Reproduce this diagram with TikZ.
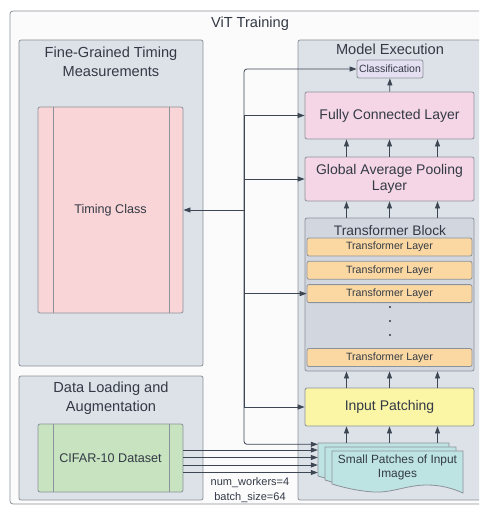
\documentclass[tikz,border=0pt]{standalone}
\usepackage{fontspec}
\setmainfont{Liberation Sans}
\usetikzlibrary{arrows.meta,positioning}
\definecolor{ink}{HTML}{333A45}
\definecolor{edge}{HTML}{8C929B}
\definecolor{wirec}{HTML}{3D4754}
\definecolor{framec}{HTML}{FBFBFC}
\definecolor{panec}{HTML}{DDE1E8}
\definecolor{timingc}{HTML}{F9D5D7}
\definecolor{densec}{HTML}{F5D6E6}
\definecolor{clsc}{HTML}{E4E0F1}
\definecolor{blockc}{HTML}{D2D6DE}
\definecolor{layerc}{HTML}{FBD8A2}
\definecolor{inpc}{HTML}{FBF5A6}
\definecolor{patchc}{HTML}{BEE3E3}
\definecolor{datac}{HTML}{C7E3C0}
\begin{document}
\begin{tikzpicture}[x=1pt,y=-1pt,>={Triangle[length=7pt,width=5pt]},
  every node/.style={text=ink},
  pane/.style={draw=edge,fill=panec,line width=.8pt,rounded corners=2pt,inner sep=0pt},
  head/.style={font=\fontsize{14.6}{18.5}\selectfont,align=center},
  box/.style={draw=edge,line width=.8pt,rounded corners=2pt,align=center,inner sep=0pt,
    font=\fontsize{14}{16.5}\selectfont},
  sub/.style={box,font=\fontsize{12.6}{15}\selectfont,path picture={
    \draw[edge,line width=.8pt]
      ([xshift=15pt]path picture bounding box.north west) -- ([xshift=15pt]path picture bounding box.south west)
      ([xshift=-14pt]path picture bounding box.north east) -- ([xshift=-14pt]path picture bounding box.south east);}},
  layer/.style={box,fill=layerc,minimum width=165pt,minimum height=18pt,font=\fontsize{10.6}{12}\selectfont},
  wire/.style={draw=wirec,line width=.8pt}]
  \path[use as bounding box,clip] (0,0) rectangle (479,508);
  % frame and the three panes
  \node[draw=edge,fill=framec,line width=.8pt,rounded corners=3pt,minimum width=482pt,minimum height=493pt] (frame) at (251,257.5) {};
  \node[head] (ttl) at (250,24) {ViT Training};
  \node[pane,minimum width=184pt,minimum height=326pt] (tpan) at (111,203) {};
  \node[pane,minimum width=184pt,minimum height=124pt] (dpan) at (111,438) {};
  \node[pane,minimum width=184pt,minimum height=460pt] (mpan) at (390,270) {};
  \node[head] (thd) at (111,62) {Fine-Grained Timing\\Measurements};
  \node[head] (dhd) at (111,398) {Data Loading and\\Augmentation};
  \node[head] (mhd) at (390,49) {Model Execution};
  % left side
  \node[sub,fill=timingc,minimum width=145pt,minimum height=206pt] (tcls) at (110.5,210) {Timing Class};
  \node[sub,fill=datac,minimum width=145pt,minimum height=68pt] (cifar) at (110.5,458) {CIFAR-10 Dataset};
  % model
  \node[box,fill=clsc,minimum width=66pt,minimum height=18pt,font=\fontsize{10.5}{12}\selectfont] (cls) at (390,69) {Classification};
  \node[box,fill=densec,minimum width=169pt,minimum height=47pt] (fc) at (389.5,115.5) {Fully Connected Layer};
  \node[box,fill=densec,minimum width=169pt,minimum height=44pt] (gap) at (389.5,179) {Global Average Pooling\\Layer};
  \node[box,fill=blockc,minimum width=169pt,minimum height=153pt] (tb) at (389.5,294.5) {};
  \node[font=\fontsize{13.8}{16}\selectfont] (tbh) at (390,230.5) {Transformer Block};
  \node[layer] (tl1) at (389.5,247) {Transformer Layer};
  \node[layer,below=4.5pt of tl1] (tl2) {Transformer Layer};
  \node[layer,below=4.5pt of tl2] (tl3) {Transformer Layer};
  \node[layer] (tl4) at (389.5,357.5) {Transformer Layer};
  \foreach \y in {307,321,335} \fill[ink] (390,\y) circle (1.1pt);
  \node[box,fill=inpc,minimum width=169pt,minimum height=38pt] (inp) at (389.5,407) {Input Patching};
  % stacked patches
  \node[minimum width=131pt,minimum height=42pt,inner sep=0pt] (patbk) at (383.5,464) {};
  \foreach \o/\p in {0/0,7/4,14/8}
    \draw[edge,fill=patchc,line width=.8pt] (318+\o,443+\p) -- (449+\o,443+\p) -- (449+\o,485+\p)
      .. controls (438+\o,480+\p) and (426+\o,477+\p) .. (413+\o,477+\p)
      .. controls (393+\o,477+\p) and (378+\o,485+\p) .. (360+\o,484+\p)
      .. controls (343+\o,483+\p) and (328+\o,479+\p) .. (318+\o,476+\p) -- cycle;
  \node[align=center,font=\fontsize{11.9}{14}\selectfont] (pat) at (397.5,467) {Small Patches of Input\\Images};
  \node[align=center,font=\fontsize{11}{15}\selectfont] (cfg) at (250,490) {num\_workers=4\\batch\_size=64};
  % bus to the timing class
  \coordinate (hub) at (244,210);
  \draw[->,wire] (hub) -- (tcls);
  \draw[->,wire,rounded corners=3pt] (hub) |- (cls);
  \draw[->,wire] (hub) |- (fc);
  \draw[->,wire] (hub) |- (gap);
  \draw[->,wire] (hub) |- (tl3);
  \draw[->,wire] (hub) |- (inp);
  \draw[->,wire,rounded corners=3pt] (hub) |- ([yshift=-1.5pt]patbk.north west);
  % data flow
  \foreach \y in {450,457.5,465,472.5}
    \draw[->,wire] (cifar.east |- 0,\y) -- (patbk.west |- 0,\y);
  \foreach \dx in {-43,0,48} {
    \draw[->,wire] ([xshift=\dx pt]inp.south |- patbk.north) -- ([xshift=\dx pt]inp.south);
    \draw[->,wire] ([xshift=\dx pt]inp.north) -- ([xshift=\dx pt]tb.south);
    \draw[->,wire] ([xshift=\dx pt]tb.north) -- ([xshift=\dx pt]gap.south);
    \draw[->,wire] ([xshift=\dx pt]gap.north) -- ([xshift=\dx pt]fc.south);
  }
  \draw[->,wire] (fc) -- (cls);
\end{tikzpicture}
\end{document}
